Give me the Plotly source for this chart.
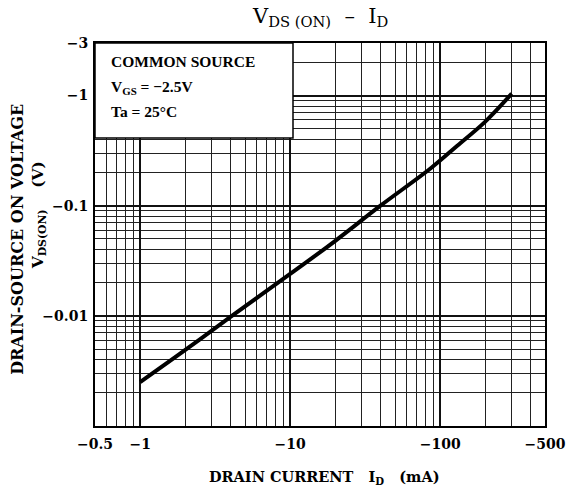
import plotly.graph_objects as go

# Data (magnitudes; axis labels show negative values)
drain_current_mA = [1, 2, 4, 10, 20, 40, 87, 130, 200, 300]
vds_on_V = [0.0025, 0.0049, 0.0098, 0.024, 0.048, 0.10, 0.22, 0.35, 0.58, 1.04]

x_tick_vals = [0.5, 1, 10, 100, 500]
x_tick_text = ["−0.5", "−1", "−10", "−100", "−500"]
x_minor_vals = [0.6, 0.7, 0.8, 0.9, 2, 3, 4, 5, 6, 7, 8, 9,
                20, 30, 40, 50, 60, 70, 80, 90, 200, 300, 400]

y_tick_vals = [0.001, 0.01, 0.1, 1, 3]
y_tick_text = ["", "−0.01", "−0.1", "−1", "−3"]
y_minor_vals = [0.002, 0.003, 0.004, 0.005, 0.006, 0.007, 0.008, 0.009,
                0.02, 0.03, 0.04, 0.05, 0.06, 0.07, 0.08, 0.09,
                0.2, 0.3, 0.4, 0.5, 0.6, 0.7, 0.8, 0.9, 2]

SERIF = "Liberation Serif"
WIDE = "DejaVu Serif"

fig = go.Figure()
fig.add_trace(go.Scatter(
    x=drain_current_mA, y=vds_on_V, mode="lines",
    line=dict(color="black", width=4, shape="spline"),
    showlegend=False, hoverinfo="skip"))

axis_common = dict(
    type="log", showline=True, linecolor="black", linewidth=2, mirror=True,
    showgrid=True, gridcolor="#111", gridwidth=1.6, zeroline=False,
    ticks="", tickfont=dict(family=WIDE, size=14, color="black", weight="bold"),
    tickmode="array",
)

fig.update_xaxes(
    **axis_common, range=[-0.30103, 2.69897],
    tickvals=x_tick_vals, ticktext=x_tick_text, ticklabelstandoff=4,
    minor=dict(tickmode="array", tickvals=x_minor_vals, showgrid=True,
               gridcolor="#222", gridwidth=1, ticks=""),
)
fig.update_yaxes(
    **axis_common, range=[-3, 0.47712],
    tickvals=y_tick_vals, ticktext=y_tick_text, ticklabelstandoff=2,
    minor=dict(tickmode="array", tickvals=y_minor_vals, showgrid=True,
               gridcolor="#222", gridwidth=1, ticks=""),
)

# legend box (white, covering grid)
fig.add_shape(type="rect", xref="paper", yref="paper",
              x0=0, x1=0.44, y0=0.752, y1=1,
              fillcolor="white", line=dict(color="black", width=1.5), layer="above")

txt_font = dict(family=SERIF, size=15.5, color="black")
fig.add_annotation(xref="paper", yref="paper", x=0.03, y=0.953, xanchor="left", yanchor="middle",
                   text="<b>COMMON SOURCE</b>", showarrow=False, font=txt_font)
fig.add_annotation(xref="paper", yref="paper", x=0.03, y=0.884, xanchor="left", yanchor="middle",
                   text="<b>V<sub>GS</sub> = −2.5V</b>", showarrow=False, font=txt_font)
fig.add_annotation(xref="paper", yref="paper", x=0.03, y=0.820, xanchor="left", yanchor="middle",
                   text="<b>Ta = 25°C</b>", showarrow=False, font=txt_font)

# title
fig.add_annotation(xref="paper", yref="paper", x=0.5, y=1.0, yshift=26, xanchor="center", yanchor="middle",
                   text="V<sub>DS (ON)</sub>  –  I<sub>D</sub>", showarrow=False,
                   font=dict(family=WIDE, size=21, color="black"))

# x axis title
fig.add_annotation(xref="paper", yref="paper", x=0.51, y=0, yshift=-51, xanchor="center", yanchor="middle",
                   text="<b>DRAIN CURRENT   I<sub>D</sub>   (mA)</b>", showarrow=False,
                   font=dict(family=WIDE, size=14.5, color="black"))

# y axis title (two lines)
fig.add_annotation(xref="paper", yref="paper", x=0, xshift=-77, y=0.486, xanchor="center", yanchor="middle",
                   text="<b>DRAIN-SOURCE ON VOLTAGE</b>", textangle=-90, showarrow=False,
                   font=dict(family=WIDE, size=16, color="black"))
fig.add_annotation(xref="paper", yref="paper", x=0, xshift=-57, y=0.55, xanchor="center", yanchor="middle",
                   text="<b>V<sub>DS(ON)</sub>    (V)</b>", textangle=-90, showarrow=False,
                   font=dict(family=WIDE, size=15.5, color="black"))

fig.update_layout(
    width=578, height=498,
    margin=dict(l=95, r=21, t=43, b=72),
    paper_bgcolor="white", plot_bgcolor="white",
    showlegend=False,
)

fig.write_html("out.html", config={"displayModeBar": False},
               post_script="document.body.style.margin='0';document.body.style.overflow='hidden';")
